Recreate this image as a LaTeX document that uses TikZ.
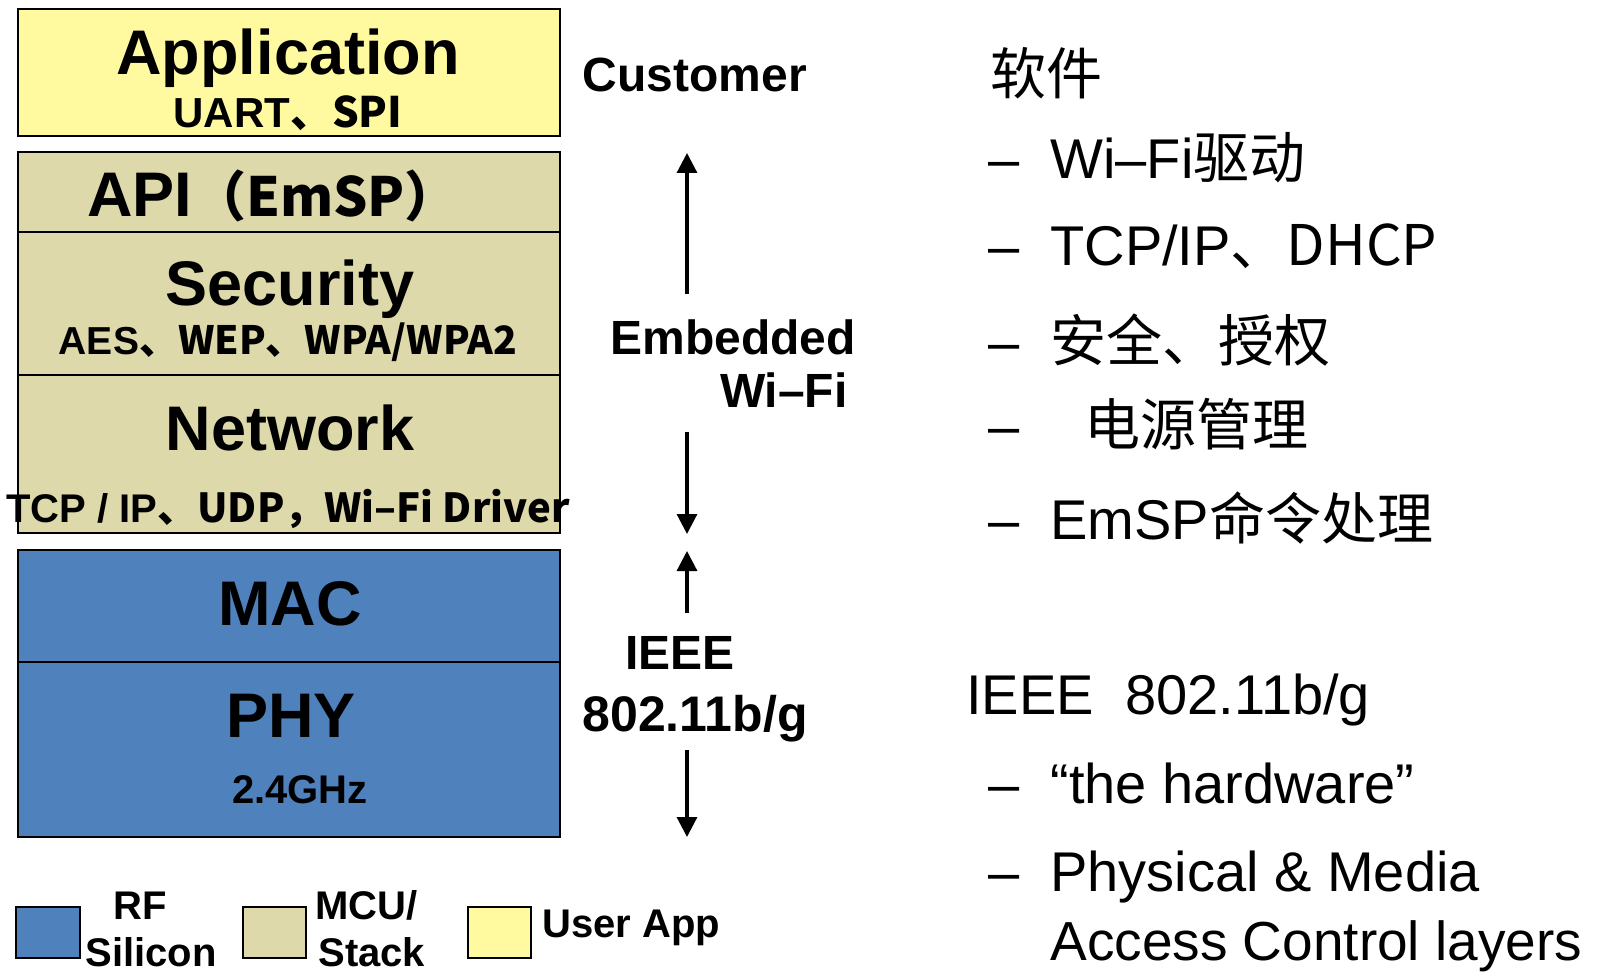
\documentclass[tikz,border=0pt]{standalone}
\usepackage{fontspec}
\setmainfont{Liberation Sans}
\newfontfamily\cjk{Noto Sans CJK SC}
\usetikzlibrary{arrows.meta}
\definecolor{appyellow}{RGB}{255,250,160}
\definecolor{stacktan}{RGB}{221,217,170}
\definecolor{rfblue}{RGB}{79,129,189}
\begin{document}
\begin{tikzpicture}[x=0.5pt,y=-0.5pt,
  layer/.style={draw=black, line width=1pt},
  big/.style={font=\fontsize{31.5}{33}\selectfont\bfseries, inner sep=0pt, anchor=base},
  small/.style={font=\fontsize{20}{22}\selectfont\bfseries, inner sep=0pt, anchor=base},
  mid/.style={font=\fontsize{24}{26}\selectfont\bfseries, inner sep=0pt, anchor=base},
  rt/.style={font=\fontsize{28}{30}\selectfont, inner sep=0pt, anchor=base west},
  arr/.style={line width=1.6pt, -{Triangle[width=10pt,length=10pt]}},
]
\useasboundingbox (0,0) rectangle (1601,973);
\fill[white] (0,0) rectangle (1601,973);

% layer boxes
\draw[layer, fill=appyellow] (18,9) rectangle (560,136);
\draw[layer, fill=stacktan] (18,152) rectangle (560,533);
\draw[layer] (18,232) -- (560,232);
\draw[layer] (18,375) -- (560,375);
\draw[layer, fill=rfblue] (18,550) rectangle (560,837);
\draw[layer] (18,662) -- (560,662);

% box labels
\node[big] (app) at (288,75) {Application};
\node[small, font=\fontsize{21}{22}\selectfont\bfseries] (uart) at (288,128) {UART\cjk{、}SPI};
\node[big] (api) at (273,217) {API{\fontsize{27}{28}\selectfont\cjk{（}EmSP\cjk{）}}};
\node[big] (sec) at (290,306) {Security};
\node[small, font=\fontsize{19.5}{22}\selectfont\bfseries] (aes) at (288,355) {AES\cjk{、}WEP\cjk{、}WPA/WPA2};
\node[big] (net) at (290,450) {Network};
\node[small] (tcp) at (288,522) {TCP / IP\cjk{、}UDP\cjk{，}Wi–Fi Driver};
\node[big] (mac) at (290,625) {MAC};
\node[big] (phy) at (291,737) {PHY};
\node[small] (ghz) at (300,803) {2.4GHz};

% legend
\draw[layer, fill=rfblue] (16,907) rectangle (80,958);
\draw[layer, fill=stacktan] (243,907) rectangle (306,958);
\draw[layer, fill=appyellow] (468,907) rectangle (531,958);
\node[small] (rf) at (140,919) {RF};
\node[small] (sil) at (151,966) {Silicon};
\node[small, anchor=base west] (mcu) at (315,919) {MCU/};
\node[small, anchor=base west] (stk) at (318,966) {Stack};
\node[small, anchor=base west] (usr) at (542,937) {User App};

% middle labels
\node[mid] (cust) at (695,92) {Customer};
\node[mid] (emb) at (733,354) {Embedded};
\node[mid, anchor=base east] (wifi) at (848,407) {Wi–Fi};
\node[mid] (ieee) at (680,669) {IEEE};
\node[mid, font=\fontsize{25}{27}\selectfont\bfseries] (std) at (695,731) {802.11b/g};

% arrows
\coordinate (a1s) at (687,294); \coordinate (a1e) at (687,153);
\coordinate (a2s) at (687,432); \coordinate (a2e) at (687,534);
\coordinate (a3s) at (687,613); \coordinate (a3e) at (687,551);
\coordinate (a4s) at (687,750); \coordinate (a4e) at (687,837);
\draw[arr] (a1s) -- (a1e);
\draw[arr] (a2s) -- (a2e);
\draw[arr] (a3s) -- (a3e);
\draw[arr] (a4s) -- (a4e);

% right text
\node[rt] (sw) at (990,95) {\cjk{软件}};
\node[rt] (d1) at (988,179) {–};
\node[rt] (l1) at (1050,179) {Wi–Fi\cjk{驱动}};
\node[rt] (d2) at (988,266) {–};
\node[rt] (l2) at (1050,266) {TCP/IP\cjk{、}DHCP};
\node[rt] (d3) at (988,361) {–};
\node[rt] (l3) at (1050,361) {\cjk{安全、授权}};
\node[rt] (d4) at (988,445) {–};
\node[rt] (l4) at (1084,445) {\cjk{电源管理}};
\node[rt] (d5) at (988,539) {–};
\node[rt] (l5) at (1050,539) {EmSP\cjk{命令处理}};
\node[rt] (hw) at (966,714) {IEEE\ \ 802.11b/g};
\node[rt] (d6) at (988,803) {–};
\node[rt] (l6) at (1050,803) {“the hardware”};
\node[rt] (d7) at (988,891) {–};
\node[rt] (l7) at (1050,891) {Physical \& Media};
\node[rt, font=\fontsize{27.5}{30}\selectfont] (l8) at (1050,960) {Access Control layers};
\end{tikzpicture}
\end{document}
